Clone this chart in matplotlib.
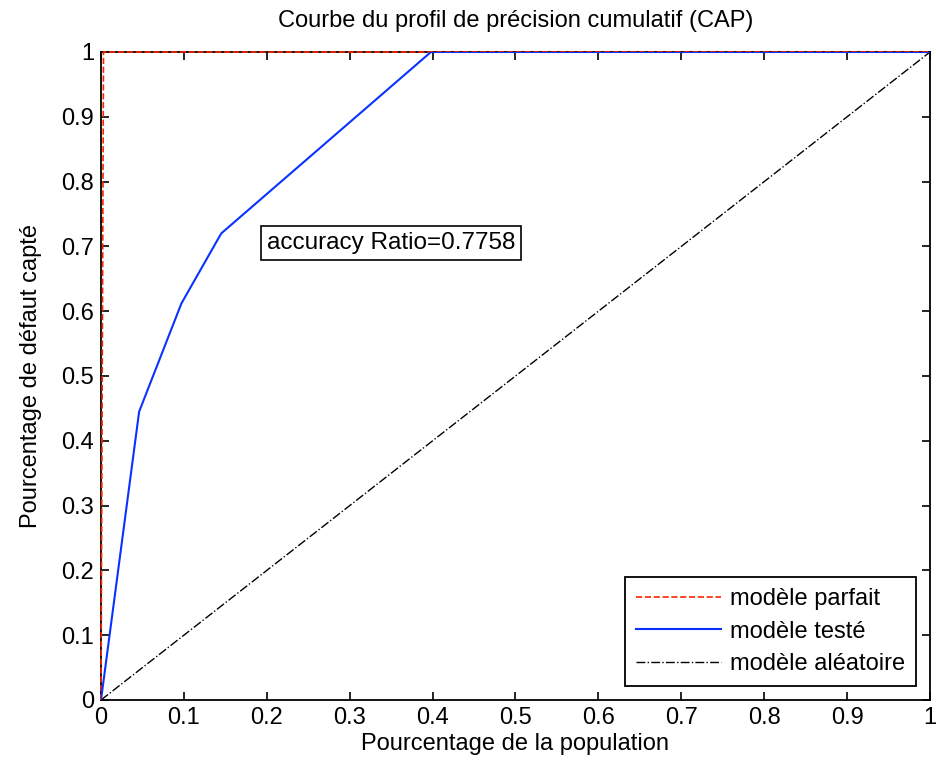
import numpy as np
import matplotlib
matplotlib.use("Agg")
import matplotlib.pyplot as plt

plt.rcParams.update({"font.family": ["Liberation Sans", "DejaVu Sans"], "font.size": 17})

# CAP curve data
perfect_x = [0, 0.003, 1]
perfect_y = [0, 1, 1]
tested_x = [0, 0.046, 0.097, 0.145, 0.398, 1]
tested_y = [0, 0.445, 0.612, 0.72, 1, 1]
random_x = [0, 1]
random_y = [0, 1]
ticks = np.round(np.arange(0, 1.01, 0.1), 1)
tick_labels = ["0", "0.1", "0.2", "0.3", "0.4", "0.5", "0.6", "0.7", "0.8", "0.9", "1"]
accuracy_ratio = 0.7758

fig = plt.figure(figsize=(9.37, 7.69), dpi=100)
ax = fig.add_axes([101 / 937, 1 - 700 / 769, 829 / 937, 648 / 769])

ax.plot(perfect_x, perfect_y, "--", color="#ff2200", lw=1.2, label="modèle parfait",
        zorder=3, clip_on=False)
ax.plot(tested_x, tested_y, "-", color="#0a32ff", lw=1.5, label="modèle testé", zorder=3.1)
ax.plot(random_x, random_y, "-.", color="black", lw=1.0, label="modèle aléatoire")

ax.text(0.2, 0.705, f"accuracy Ratio={accuracy_ratio}", va="center", ha="left", fontsize=17.5,
        bbox=dict(boxstyle="square,pad=0.25", fc="white", ec="black", lw=1.2))

ax.set_xlim(0, 1); ax.set_ylim(0, 1)
ax.set_xticks(ticks); ax.set_xticklabels(tick_labels)
ax.set_yticks(ticks); ax.set_yticklabels(tick_labels)
ax.tick_params(direction="in", top=True, right=True, length=6, width=1.2, labelsize=17, pad=5)
for s in ax.spines.values():
    s.set_linewidth(1.3)

ax.set_xlabel("Pourcentage de la population", fontsize=17, labelpad=3)
ax.set_ylabel("Pourcentage de défaut capté", fontsize=17, labelpad=14)
ax.set_title("Courbe du profil de précision cumulatif (CAP)", fontsize=17, pad=18)

leg = ax.legend(loc="lower right", fancybox=False, edgecolor="black", framealpha=1,
                fontsize=17, handlelength=3.6, handletextpad=0.4, borderaxespad=0.6,
                labelspacing=0.45, borderpad=0.45)
leg.get_frame().set_linewidth(1.3)

fig.savefig("out.png", dpi=100)
